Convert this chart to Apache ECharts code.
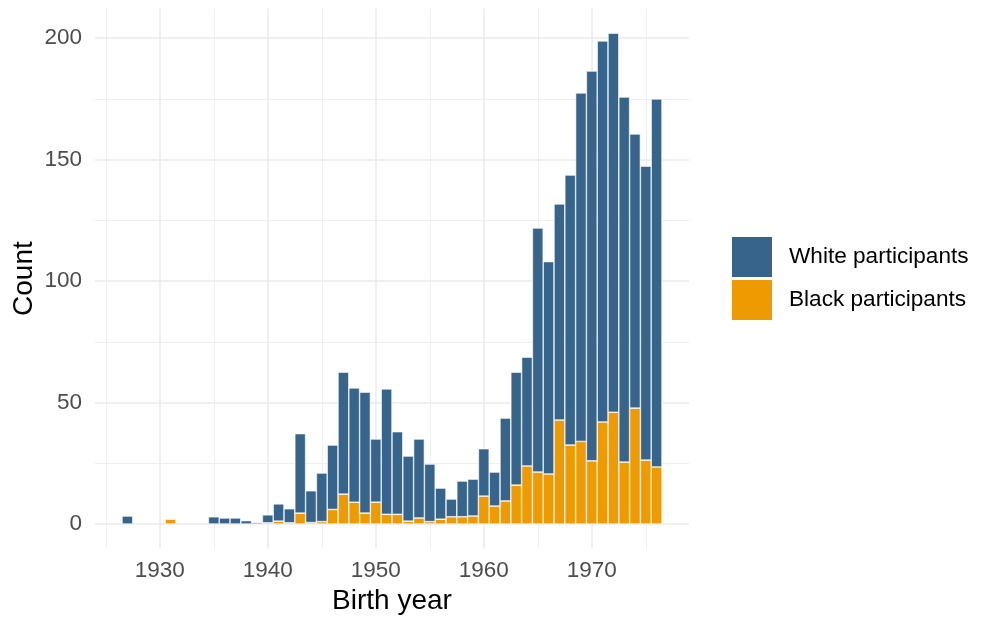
<!DOCTYPE html>
<html>
<head>
<meta charset="utf-8">
<script src="https://cdn.jsdelivr.net/npm/echarts@6/dist/echarts.min.js"></script>
<style>
  html, body { margin: 0; padding: 0; background: #fff; }
  #main { width: 986px; height: 619px; }
</style>
</head>
<body>
<div id="main"></div>
<script>
// birth years, one bin per year (1924-1926 and 1977-1979 are the empty padding of the panel)
const years = [1924, 1925, 1926, 1927, 1928, 1929, 1930, 1931, 1932, 1933,
  1934, 1935, 1936, 1937, 1938, 1939, 1940, 1941, 1942, 1943,
  1944, 1945, 1946, 1947, 1948, 1949, 1950, 1951, 1952, 1953,
  1954, 1955, 1956, 1957, 1958, 1959, 1960, 1961, 1962, 1963,
  1964, 1965, 1966, 1967, 1968, 1969, 1970, 1971, 1972, 1973,
  1974, 1975, 1976, 1977, 1978, 1979]

// counts (null = empty bin)
const blackCounts = [null, null, null,
  null, null, null, null, 2, null, null, null, null, null,
  null, null, null, 0.5, 1.2, 0.5, 4.5, 0.6, 1, 6,
  12.3, 9, 4.5, 9, 4, 4, 1.2, 2.5, 1, 2,
  3, 3, 3.3, 11.5, 7.4, 9.5, 16, 23.9, 21.4, 20.6,
  42.8, 32.5, 34, 26, 42, 46, 25.5, 47.7, 26.3, 23.5,
  null, null, null]

const whiteCounts = [null, null, null,
  3.3, null, null, null, null, null, null, null, 3, 2.5,
  2.5, 1.4, 0.6, 3.3, 7.1, 5.8, 32.7, 13.1, 20, 26.5,
  50.2, 47, 49.8, 26, 51.6, 34, 26.8, 32.5, 23.7, 12.8,
  7.3, 14.7, 15.2, 19.5, 14, 34.1, 46.5, 44.8, 100.4, 87.4,
  88.9, 111.1, 143.4, 160.4, 156.8, 156, 150.2, 112.8, 121, 151.4,
  null, null, null]

// tick / grid positions
const xMajor = [1930, 1940, 1950, 1960, 1970]
const xMinor = [1925, 1935, 1945, 1955, 1965, 1975]
const yMajor = [0, 50, 100, 150, 200]
const yMinor = [25, 75, 125, 175]

const font = '"Liberation Sans", Arial, Helvetica, sans-serif'

const myChart = echarts.init(document.getElementById('main'))

const isMajor = (idx, val) => xMajor.indexOf(Number(val)) >= 0
const isMinor = (idx, val) => xMinor.indexOf(Number(val)) >= 0

const option = {
  animation: false,
  backgroundColor: '#fff',
  grid: {
    left: 95,
    top: 8.6,
    width: 594,
    height: 540,
    containLabel: false,
    outerBoundsMode: 'none'
  },
  legend: {
    orient: 'vertical',
    left: 732,
    top: 237,
    itemWidth: 40,
    itemHeight: 40,
    itemGap: 3,
    padding: 0,
    selectedMode: false,
    icon: 'rect',
    itemStyle: { borderWidth: 0 },
    textStyle: {
      fontFamily: font,
      fontSize: 22.6,
      color: '#000',
      padding: [0, 0, 0, 12]
    },
    data: ['White participants', 'Black participants']
  },
  xAxis: [
    {
      type: 'category',
      data: years,
      boundaryGap: false,
      axisLine: { show: false },
      axisTick: { show: false },
      axisLabel: {
        interval: isMajor,
        color: '#4d4d4d',
        fontFamily: font,
        fontSize: 22.5,
        margin: 11
      },
      splitLine: { show: true, interval: isMajor, lineStyle: { color: '#ebebeb', width: 1.6 } },
      name: 'Birth year',
      nameLocation: 'middle',
      nameGap: 39,
      nameMoveOverlap: false,
      nameTextStyle: { fontFamily: font, fontSize: 28, color: '#000' }
    },
    {
      // minor grid lines only
      type: 'category',
      data: years,
      boundaryGap: false,
      position: 'bottom',
      axisLine: { show: false },
      axisTick: { show: false },
      axisLabel: { show: false },
      splitLine: { show: true, interval: isMinor, lineStyle: { color: '#ebebeb', width: 0.8 } }
    }
  ],
  yAxis: [
    {
      type: 'value',
      min: -10.1,
      max: 212.1,
      axisLine: { show: false },
      axisTick: { show: false, customValues: yMajor },
      axisLabel: {
        customValues: yMajor,
        formatter: v => String(v),
        color: '#4d4d4d',
        fontFamily: font,
        fontSize: 22.5,
        margin: 13
      },
      splitLine: { show: true, lineStyle: { color: '#ebebeb', width: 1.6 } },
      name: 'Count',
      nameLocation: 'middle',
      nameGap: 57,
      nameMoveOverlap: false,
      nameTextStyle: { fontFamily: font, fontSize: 28, color: '#000' }
    },
    {
      type: 'value',
      min: -10.1,
      max: 212.1,
      position: 'left',
      axisLine: { show: false },
      axisTick: { show: false, customValues: yMinor },
      axisLabel: { show: false, customValues: yMinor },
      splitLine: { show: true, lineStyle: { color: '#ebebeb', width: 0.8 } }
    }
  ],
  series: [
    {
      name: 'Black participants',
      type: 'bar',
      stack: 'total',
      xAxisIndex: 0,
      yAxisIndex: 0,
      barWidth: '100%',
      itemStyle: { color: '#EE9A00', borderColor: '#fff', borderWidth: 0.6 },
      data: blackCounts
    },
    {
      name: 'White participants',
      type: 'bar',
      stack: 'total',
      xAxisIndex: 0,
      yAxisIndex: 0,
      barWidth: '100%',
      itemStyle: { color: '#36648B', borderColor: '#fff', borderWidth: 0.6 },
      data: whiteCounts
    }
  ]
}

myChart.setOption(option)
</script>
</body>
</html>
